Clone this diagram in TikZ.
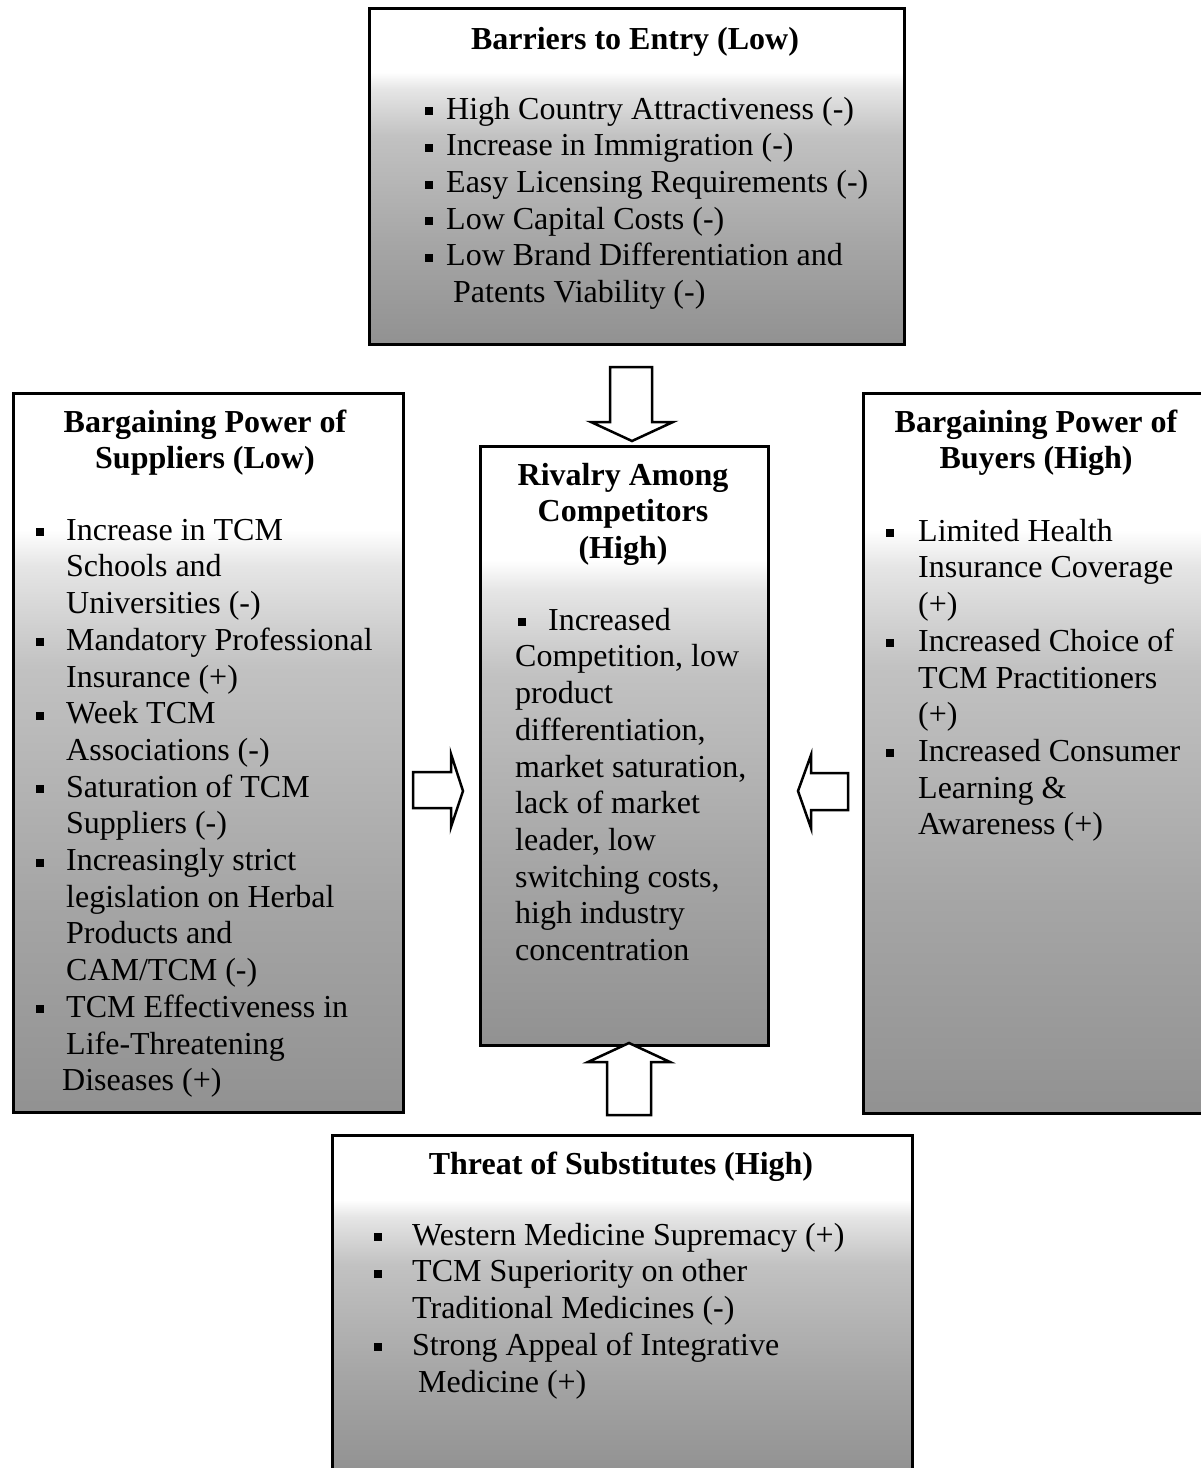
\documentclass[tikz,border=0pt]{standalone}
\usepackage{fontspec}
\setmainfont{Liberation Serif}
\definecolor{shA}{gray}{0.57}
\definecolor{shB}{gray}{0.65}
\definecolor{shC}{gray}{0.76}
\definecolor{shD}{gray}{0.90}
\pgfdeclareverticalshading{boxsh}{100bp}{color(0bp)=(shA); color(25bp)=(shA); color(40bp)=(shB); color(56bp)=(shC); color(63bp)=(shD); color(65.5bp)=(white); color(100bp)=(white)}
\newcommand\sqb{\raisebox{4pt}{\rule{8pt}{8pt}}}
\newcommand\bi[1]{\strut\makebox[#1][l]{\sqb}}
\newcommand\ct[1]{\strut\hspace*{#1}}
\begin{document}
\begin{tikzpicture}[x=1pt,y=-1pt,
  boxst/.style={draw=black, line width=2.5pt, shade, shading=boxsh, inner sep=0pt, anchor=north west},
  txt/.style={font=\fontsize{32}{36.7}\selectfont, inner sep=0pt, align=left, anchor=north west},
  ttl/.style={font=\fontsize{32}{36.7}\selectfont\bfseries, inner sep=0pt, align=center, anchor=north},
  blockarrow/.style={draw=black, line width=2.5pt, fill=white, line join=miter}]
\useasboundingbox (0,0) rectangle (1201,1468);

% boxes
\node[boxst, minimum width=535pt, minimum height=336pt] (topbox) at (368,7) {};
\node[boxst, minimum width=390pt, minimum height=719pt] (leftbox) at (12,392) {};
\node[boxst, minimum width=342pt, minimum height=720pt] (rightbox) at (862,392) {};
\node[boxst, minimum width=288pt, minimum height=599pt] (centerbox) at (479,445) {};
\node[boxst, minimum width=580pt, minimum height=340pt] (bottombox) at (331,1134) {};

% arrows
\draw[blockarrow] (610,367) -- (652,367) -- (652,422) -- (673,422) -- (632,441) -- (591,422) -- (610,422) -- cycle;
\draw[blockarrow] (413,772) -- (451,772) -- (451,754) -- (463,791) -- (451,827) -- (451,808) -- (413,808) -- cycle;
\draw[blockarrow] (848,773) -- (811,773) -- (811,755) -- (798,791) -- (811,828) -- (811,810) -- (848,810) -- cycle;
\draw[blockarrow] (607,1115) -- (651,1115) -- (651,1062) -- (670,1062) -- (629,1043) -- (588,1062) -- (607,1062) -- cycle;

% top box
\node[ttl] (toptitle) at (635,23.3) {\strut Barriers to Entry (Low)};
\node[txt] (topbody) at (425,93.3) {%
\bi{21pt}High Country Attractiveness (-)\\
\bi{21pt}Increase in Immigration (-)\\
\bi{21pt}Easy Licensing Requirements (-)\\
\bi{21pt}Low Capital Costs (-)\\
\bi{21pt}Low Brand Differentiation and\\
\ct{28pt}Patents Viability (-)};

% left box
\node[ttl] (lefttitle) at (205,406.3) {\strut Bargaining Power of\\ \strut Suppliers (Low)};
\node[txt] (leftbody) at (36,514.3) {%
\bi{30pt}Increase in TCM\\
\ct{30pt}Schools and\\
\ct{30pt}Universities (-)\\
\bi{30pt}Mandatory Professional\\
\ct{30pt}Insurance (+)\\
\bi{30pt}Week TCM\\
\ct{30pt}Associations (-)\\
\bi{30pt}Saturation of TCM\\
\ct{30pt}Suppliers (-)\\
\bi{30pt}Increasingly strict\\
\ct{30pt}legislation on Herbal\\
\ct{30pt}Products and\\
\ct{30pt}CAM/TCM (-)\\
\bi{30pt}TCM Effectiveness in\\
\ct{30pt}Life-Threatening\\
\ct{26pt}Diseases (+)};

% right box
\node[ttl] (righttitle) at (1036,406.3) {\strut Bargaining Power of\\ \strut Buyers (High)};
\node[txt] (rightbody) at (886,515.3) {%
\bi{32pt}Limited Health\\
\ct{32pt}Insurance Coverage\\
\ct{32pt}(+)\\
\bi{32pt}Increased Choice of\\
\ct{32pt}TCM Practitioners\\
\ct{32pt}(+)\\
\bi{32pt}Increased Consumer\\
\ct{32pt}Learning \&\\
\ct{32pt}Awareness (+)};

% center box
\node[ttl] (centertitle) at (623,459.3) {\strut Rivalry Among\\ \strut Competitors\\ \strut (High)};
\node[txt] (centerbody) at (515,604.3) {%
\strut\hspace*{3pt}\makebox[30pt][l]{\sqb}Increased\\
\strut Competition, low\\
\strut product\\
\strut differentiation,\\
\strut market saturation,\\
\strut lack of market\\
\strut leader, low\\
\strut switching costs,\\
\strut high industry\\
\strut concentration};

% bottom box
\node[ttl] (bottomtitle) at (621,1148.3) {\strut Threat of Substitutes (High)};
\node[txt] (bottombody) at (374,1219.3) {%
\bi{38pt}Western Medicine Supremacy (+)\\
\bi{38pt}TCM Superiority on other\\
\ct{38pt}Traditional Medicines (-)\\
\bi{38pt}Strong Appeal of Integrative\\
\ct{44pt}Medicine (+)};
\end{tikzpicture}
\end{document}
